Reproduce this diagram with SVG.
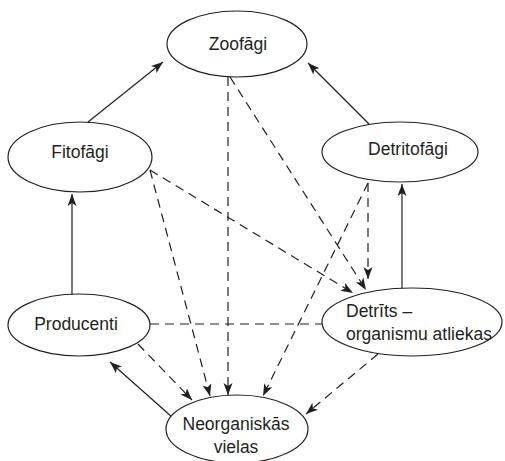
<svg xmlns="http://www.w3.org/2000/svg" width="505" height="461" viewBox="0 0 505 461">
<defs>
<style>
.n{fill:#fff;stroke:#231f20;stroke-width:1.2}
.t{font-family:"Liberation Sans",Arial,sans-serif;font-size:17.5px;fill:#231f20}
.c{text-anchor:middle}
.s{fill:none;stroke:#231f20;stroke-width:1.2;marker-end:url(#ah)}
.d{fill:none;stroke:#231f20;stroke-width:1.2;stroke-dasharray:9 6;marker-end:url(#ah)}
.dn{fill:none;stroke:#231f20;stroke-width:1.2;stroke-dasharray:9 6}
</style>
<marker id="ah" markerUnits="userSpaceOnUse" markerWidth="14" markerHeight="10" refX="12" refY="4.5" orient="auto">
<path d="M0,0 L12,4.5 L0,9 L3,4.5 Z" fill="#231f20"/>
</marker>
</defs>
<rect width="505" height="461" fill="#fff"/>
<g id="connectors">
<line class="s" x1="88" y1="122" x2="163" y2="62"/>
<line class="s" x1="369" y1="124" x2="308" y2="63"/>
<line class="s" x1="72" y1="295" x2="72" y2="194"/>
<line class="s" x1="402" y1="288" x2="402" y2="184"/>
<line class="s" x1="172" y1="417" x2="110" y2="362"/>
<line class="d" x1="228" y1="77" x2="228" y2="395"/>
<line class="d" x1="230" y1="77" x2="366" y2="290"/>
<line class="d" x1="150" y1="170" x2="353" y2="293"/>
<line class="d" x1="150" y1="170" x2="210" y2="396"/>
<line class="d" x1="368" y1="183" x2="368" y2="279"/>
<line class="d" x1="368" y1="183" x2="263" y2="396"/>
<line class="dn" x1="150" y1="324" x2="322" y2="324"/>
<line class="d" x1="138" y1="344" x2="192" y2="400"/>
<line class="d" x1="378" y1="354" x2="306" y2="414"/>
</g>
<g id="zoofagi">
<ellipse class="n" cx="237" cy="44" rx="70" ry="33"/>
<text class="t c" x="238" y="50">Zoofāgi</text>
</g>
<g id="fitofagi">
<ellipse class="n" cx="80" cy="157" rx="72" ry="35"/>
<text class="t c" x="80" y="158">Fitofāgi</text>
</g>
<g id="detritofagi">
<ellipse class="n" cx="400" cy="152" rx="78" ry="30"/>
<text class="t c" x="408" y="155">Detritofāgi</text>
</g>
<g id="producenti">
<ellipse class="n" cx="79" cy="325" rx="71" ry="31"/>
<text class="t c" x="76" y="330">Producenti</text>
</g>
<g id="detrits">
<ellipse class="n" cx="412" cy="322" rx="90" ry="34"/>
<text class="t" x="346" y="317">Detrīts –</text>
<text class="t" x="346" y="340">organismu atliekas</text>
</g>
<g id="neorganiskas">
<ellipse class="n" cx="237" cy="429" rx="71" ry="34"/>
<text class="t c" x="236" y="430">Neorganiskās</text>
<text class="t c" x="236" y="453">vielas</text>
</g>
</svg>
